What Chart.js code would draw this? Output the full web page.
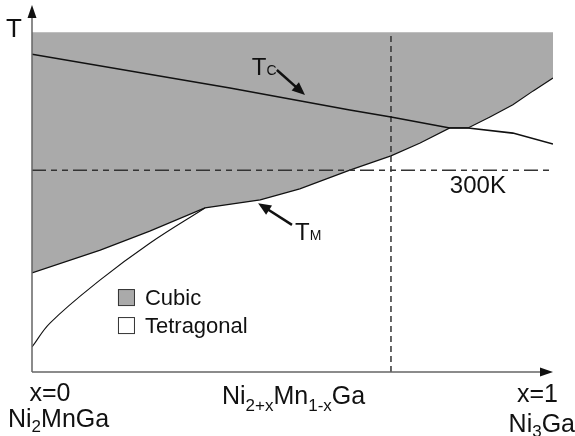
<!DOCTYPE html>
<html>
<head>
<meta charset="utf-8">
<script src="https://cdn.jsdelivr.net/npm/chart.js@4"></script>
<style>
  body { margin: 0; background: #fff; }
  canvas { display: block; }
</style>
</head>
<body>
<canvas id="phaseChart" width="575" height="436"></canvas>
<script>
// Composition x runs 0..1, T is in relative units (0 = x axis, 1 = top of arrow)
const cubicTop = 0.926;
const cubicBoundary = [
  [0, 0.270], [0.131, 0.332], [0.226, 0.384], [0.332, 0.447], [0.438, 0.469],
  [0.514, 0.499], [0.610, 0.550], [0.689, 0.589], [0.745, 0.624], [0.802, 0.665],
  [0.837, 0.665], [0.879, 0.695], [0.923, 0.728], [0.962, 0.766], [1, 0.801]
];
const curieLine = [
  [0, 0.866], [0.380, 0.774], [0.610, 0.714], [0.689, 0.695], [0.802, 0.665],
  [0.837, 0.665], [0.923, 0.651], [1, 0.621]
];
const tetragonalBranch = [
  [0, 0.068], [0.035, 0.134], [0.131, 0.251], [0.226, 0.351], [0.332, 0.447]
];
const roomTemp = 0.550;
const selectedX = 0.689;
const legendLabels = ['Cubic', 'Tetragonal'];

const toPts = arr => arr.map(p => ({ x: p[0], y: p[1] }));

// Axes with arrows, labels, legend
const decorations = {
  id: 'decorations',
  afterDraw(chart) {
    const ctx = chart.ctx;
    const xs = chart.scales.x, ys = chart.scales.y;
    const px = (x, y) => [xs.getPixelForValue(x), ys.getPixelForValue(y)];
    const [x0, y0] = px(0, 0);
    const [x1] = px(1, 0);
    const [, yTop] = px(0, 1);

    ctx.save();
    // axes
    ctx.strokeStyle = '#666';
    ctx.lineWidth = 1.5;
    ctx.beginPath();
    ctx.moveTo(x0, y0); ctx.lineTo(x0, yTop + 6);
    ctx.moveTo(x0, y0); ctx.lineTo(x1 - 6, y0);
    ctx.stroke();
    ctx.fillStyle = '#111';
    ctx.beginPath();
    ctx.moveTo(x0, yTop); ctx.lineTo(x0 - 4.5, yTop + 13); ctx.lineTo(x0 + 4.5, yTop + 13);
    ctx.closePath(); ctx.fill();
    ctx.beginPath();
    ctx.moveTo(x1, y0); ctx.lineTo(x1 - 13, y0 - 4.5); ctx.lineTo(x1 - 13, y0 + 4.5);
    ctx.closePath(); ctx.fill();

    // arrows to the curves
    const arrow = (from, to) => {
      const [ax, ay] = px(from[0], from[1]);
      const [bx, by] = px(to[0], to[1]);
      const ang = Math.atan2(by - ay, bx - ax);
      ctx.strokeStyle = '#111';
      ctx.lineWidth = 2.5;
      ctx.beginPath();
      ctx.moveTo(ax, ay);
      ctx.lineTo(bx - 8 * Math.cos(ang), by - 8 * Math.sin(ang));
      ctx.stroke();
      ctx.beginPath();
      ctx.moveTo(bx, by);
      ctx.lineTo(bx - 13 * Math.cos(ang) + 5.5 * Math.sin(ang), by - 13 * Math.sin(ang) - 5.5 * Math.cos(ang));
      ctx.lineTo(bx - 13 * Math.cos(ang) - 5.5 * Math.sin(ang), by - 13 * Math.sin(ang) + 5.5 * Math.cos(ang));
      ctx.closePath(); ctx.fill();
    };
    arrow([0.470, 0.823], [0.524, 0.755]);
    arrow([0.499, 0.401], [0.434, 0.460]);

    // text runs: [text, size, dy]
    ctx.fillStyle = '#111';
    ctx.textBaseline = 'alphabetic';
    const runs = (x, y, parts, align) => {
      let w = 0;
      parts.forEach(p => { ctx.font = p[1] + 'px "Liberation Sans", Arial, sans-serif'; w += ctx.measureText(p[0]).width; });
      let cx = align === 'right' ? x - w : align === 'center' ? x - w / 2 : x;
      ctx.textAlign = 'left';
      parts.forEach(p => {
        ctx.font = p[1] + 'px "Liberation Sans", Arial, sans-serif';
        ctx.fillText(p[0], cx, y + (p[2] || 0));
        cx += ctx.measureText(p[0]).width;
      });
    };
    runs(6, yTop + 32, [['T', 26]]);
    let [tx, ty] = px(0.422, 0.809);
    runs(tx, ty, [['T', 24], ['C', 14]]);
    [tx, ty] = px(0.505, 0.360);
    runs(tx, ty, [['T', 24], ['M', 14]]);
    [tx, ty] = px(0.802, 0.488);
    runs(tx, ty, [['300K', 24]]);

    runs(x0 + 18, y0 + 29, [['x=0', 25]], 'center');
    runs(8, y0 + 55, [['Ni', 25], ['2', 17, 5], ['MnGa', 25]]);
    runs(x0 + 190, y0 + 32, [['Ni', 25], ['2+x', 17, 7], ['Mn', 25], ['1-x', 17, 7], ['Ga', 25]]);
    runs(x1 + 5, y0 + 30, [['x=1', 25]], 'right');
    runs(chart.width, y0 + 60, [['Ni', 25], ['3', 17, 5], ['Ga', 25]], 'right');

    // legend
    const [lx, ly] = px(0.165, 0.226);
    const fills = ['#aaaaaa', '#ffffff'];
    legendLabels.forEach((lab, i) => {
      const top = ly + i * 28;
      ctx.fillStyle = fills[i];
      ctx.fillRect(lx, top, 16, 16);
      ctx.strokeStyle = '#333';
      ctx.lineWidth = 1;
      ctx.strokeRect(lx + 0.5, top + 0.5, 16, 16);
      ctx.fillStyle = '#111';
      runs(lx + 27, top + 16, [[lab, 22]]);
    });
    ctx.restore();
  }
};

new Chart(document.getElementById('phaseChart'), {
  type: 'scatter',
  data: {
    datasets: [
      {
        label: 'Cubic',
        data: toPts(cubicBoundary),
        showLine: true,
        fill: { value: cubicTop },
        backgroundColor: '#aaaaaa',
        borderColor: '#111',
        borderWidth: 1.2,
        pointRadius: 0,
        order: 5
      },
      {
        label: 'Tc',
        data: toPts(curieLine),
        showLine: true,
        borderColor: '#111',
        borderWidth: 1.6,
        pointRadius: 0,
        order: 1
      },
      {
        label: 'Tetragonal',
        data: toPts(tetragonalBranch),
        showLine: true,
        tension: 0.4,
        borderColor: '#111',
        borderWidth: 1.1,
        pointRadius: 0,
        order: 1
      },
      {
        label: '300K',
        data: [{ x: 0, y: roomTemp }, { x: 1, y: roomTemp }],
        showLine: true,
        borderColor: '#333',
        borderWidth: 1.5,
        borderDash: [14, 5, 6, 5, 6, 5],
        pointRadius: 0,
        order: 2
      },
      {
        label: 'x',
        data: [{ x: selectedX, y: 0 }, { x: selectedX, y: cubicTop }],
        showLine: true,
        borderColor: '#333',
        borderWidth: 1.5,
        borderDash: [6, 4],
        pointRadius: 0,
        order: 2
      }
    ]
  },
  options: {
    responsive: false,
    animation: false,
    layout: { padding: { left: 32, top: 5, right: 22, bottom: 64 } },
    scales: {
      x: { type: 'linear', min: 0, max: 1, display: false },
      y: { type: 'linear', min: 0, max: 1, display: false }
    },
    plugins: {
      legend: { display: false },
      tooltip: { enabled: false }
    }
  },
  plugins: [decorations]
});
</script>
</body>
</html>
